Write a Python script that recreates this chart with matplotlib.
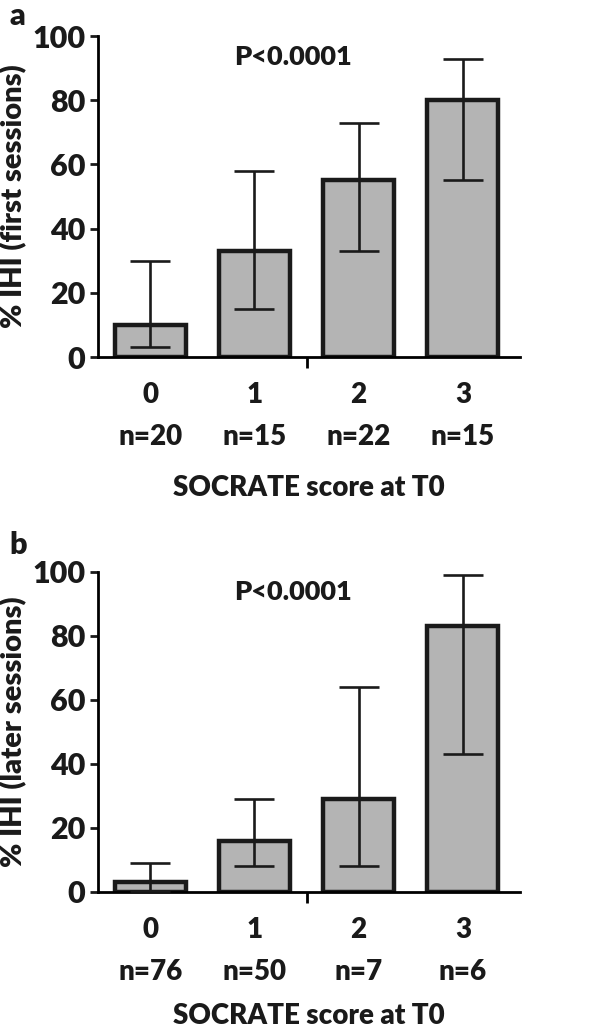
import numpy as np
import matplotlib.pyplot as plt

plt.rcParams['font.family'] = ['Lato', 'DejaVu Sans']
plt.rcParams['font.weight'] = 'heavy'

# data
scores = [0, 1, 2, 3]
n_first = [20, 15, 22, 15]
ihi_first = [10, 33, 55, 80]
low_first = [3, 15, 33, 55]
high_first = [30, 58, 73, 93]

n_later = [76, 50, 7, 6]
ihi_later = [3, 16, 29, 83]
low_later = [0.4, 8, 8, 43]
high_later = [9, 29, 64, 99]

fig = plt.figure(figsize=(5.98, 10.33), dpi=100)
ax_a = fig.add_axes([0.164, 0.6544, 0.706, 0.3107])
ax_b = fig.add_axes([0.164, 0.1365, 0.706, 0.3101])


def panel(ax, vals, lo, hi, ns, ylab, letter, ly, xpad):
    x = np.array(scores)
    vals = np.array(vals)
    yerr = [vals - np.array(lo), np.array(hi) - vals]
    ax.bar(x, vals, width=0.68, color='#b4b4b4', edgecolor='#1a1a1a',
           linewidth=3.2, zorder=2)
    ax.errorbar(x, vals, yerr=yerr, fmt='none', ecolor='#1a1a1a',
                elinewidth=1.9, capsize=14.5, capthick=1.9, zorder=3)
    ax.set_xlim(-0.5, 3.55)
    ax.set_ylim(0, 100)
    ax.spines['top'].set_visible(False)
    ax.spines['right'].set_visible(False)
    ax.spines['left'].set_linewidth(2.0)
    ax.spines['bottom'].set_linewidth(2.0)
    ax.spines['left'].set_bounds(0, 100)
    ax.set_yticks([0, 20, 40, 60, 80, 100])
    ax.tick_params(axis='y', length=6, width=2.0, labelsize=22, pad=3,
                   colors='#1a1a1a')
    ax.set_xticks(x)
    ax.set_xticklabels([f"{s}\nn={n}" for s, n in zip(scores, ns)],
                       linespacing=1.75)
    ax.tick_params(axis='x', which='major', length=0, labelsize=20, pad=18,
                   colors='#1a1a1a')
    ax.set_xticks([1.5], minor=True)
    ax.tick_params(axis='x', which='minor', length=8, width=2.0)
    for lab in ax.get_yticklabels() + ax.get_xticklabels():
        lab.set_fontweight('heavy')
    ax.set_ylabel(ylab, fontsize=21, fontweight='heavy', labelpad=4,
                  color='#1a1a1a')
    ax.set_xlabel('SOCRATE score at T0', fontsize=20, fontweight='heavy',
                  labelpad=xpad, color='#1a1a1a')
    ax.text(1.37, 93.5, 'P<0.0001', fontsize=19.5, fontweight='heavy',
            ha='center', va='center', color='#1a1a1a')
    ax.text(-0.19, ly, letter, transform=ax.transAxes, fontsize=22,
            fontweight='heavy', ha='center', va='center', color='#1a1a1a')


panel(ax_a, ihi_first, low_first, high_first, n_first,
      '% IHI (first sessions)', 'a', 1.062, 18)
panel(ax_b, ihi_later, low_later, high_later, n_later,
      '% IHI (later sessions)', 'b', 1.083, 13)

fig.savefig('out.png', dpi=100)
